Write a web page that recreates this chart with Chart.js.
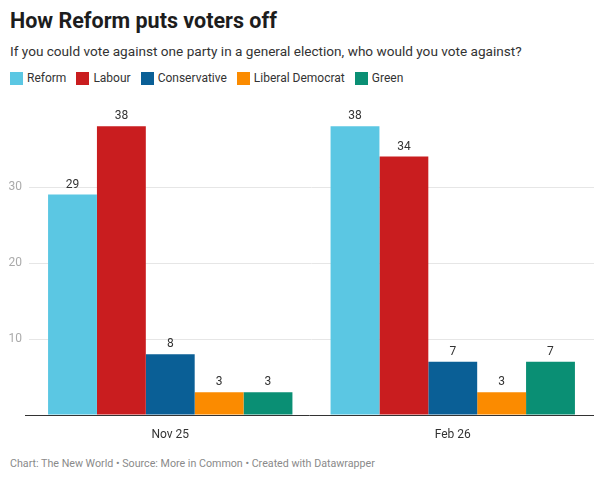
<!DOCTYPE html>
<html>
<head>
<meta charset="utf-8">
<script src="https://cdn.jsdelivr.net/npm/chart.js@4.4.1/dist/chart.umd.min.js"></script>
<style>
  html, body { margin: 0; padding: 0; background: #fff; }
  body { width: 603px; height: 480px; position: relative; overflow: hidden; font-family: Roboto, "Noto Sans", sans-serif; }
  #title { position: absolute; left: 10px; top: 8px; font-size: 21.5px; font-weight: 700; color: #1d1d1d; }
  #subtitle { position: absolute; left: 10px; top: 43px; font-size: 13.6px; color: #333; }
  #legend { position: absolute; left: 10px; top: 71px; font-size: 12px; color: #333; display: flex; }
  .item { display: flex; align-items: center; margin-right: 10px; }
  .sw { width: 13px; height: 13px; margin-right: 4px; }
  #footer { position: absolute; left: 10px; top: 457px; font-size: 10.7px; color: #8a8a8a; }
  #wrap { position: absolute; left: 0; top: 95px; width: 603px; height: 345px; }
</style>
</head>
<body>
<div id="title">How Reform puts voters off</div>
<div id="subtitle">If you could vote against one party in a general election, who would you vote against?</div>
<div id="legend"></div>
<div id="wrap"><canvas id="c"></canvas></div>
<div id="footer">Chart: The New World • Source: More in Common • Created with Datawrapper</div>
<script>
const categories = ["Nov 25", "Feb 26"];
const parties = ["Reform", "Labour", "Conservative", "Liberal Democrat", "Green"];
const reform = [29, 38];
const labour = [38, 34];
const conservative = [8, 7];
const libdem = [3, 3];
const green = [3, 7];
const yTicks = [10, 20, 30];
const colors = ["#5bc7e3", "#c91d1f", "#0a5f96", "#fb8b00", "#0a8f74"];

const seriesValues = [reform, labour, conservative, libdem, green];

const legend = document.getElementById('legend');
parties.forEach((p, i) => {
  const it = document.createElement('div');
  it.className = 'item';
  it.innerHTML = '<span class="sw" style="background:' + colors[i] + '"></span><span>' + p + '</span>';
  legend.appendChild(it);
});

const labelPlugin = {
  id: 'labels',
  afterDatasetsDraw(chart) {
    const ctx = chart.ctx;
    ctx.save();
    ctx.font = '12px Roboto, sans-serif';
    ctx.fillStyle = '#333';
    ctx.textAlign = 'center';
    ctx.textBaseline = 'bottom';
    chart.data.datasets.forEach((ds, di) => {
      const meta = chart.getDatasetMeta(di);
      meta.data.forEach((bar, i) => {
        ctx.fillText(String(ds.data[i]), bar.x, bar.y - 4);
      });
    });
    const y0 = chart.scales.y.getPixelForValue(0);
    ctx.strokeStyle = '#333';
    ctx.lineWidth = 1;
    ctx.beginPath();
    ctx.moveTo(chart.chartArea.left - 4, Math.round(y0) + 0.5);
    ctx.lineTo(chart.chartArea.right, Math.round(y0) + 0.5);
    ctx.stroke();
    ctx.restore();
  }
};

new Chart(document.getElementById('c'), {
  type: 'bar',
  data: {
    labels: categories,
    datasets: parties.map((p, i) => ({
      label: p,
      data: seriesValues[i],
      backgroundColor: colors[i],
      borderWidth: 0,
      barPercentage: 1.0,
      categoryPercentage: 0.865
    }))
  },
  options: {
    responsive: true,
    maintainAspectRatio: false,
    animation: false,
    layout: { padding: { top: 16, right: 9, left: 0, bottom: 0 } },
    plugins: { legend: { display: false }, tooltip: { enabled: false } },
    scales: {
      x: {
        grid: { display: false },
        border: { display: false },
        ticks: { color: '#333', font: { family: 'Roboto', size: 12 }, padding: 5 },
        afterFit(scale) { scale.height = 25; }
      },
      y: {
        min: 0,
        max: 40,
        afterBuildTicks(scale) { scale.ticks = [0, ...yTicks, 40].map(v => ({ value: v })); },
        ticks: {
          color: '#aaa',
          font: { family: 'Roboto', size: 12 },
          padding: 7,
          callback: (v) => yTicks.includes(v) ? String(v) : ''
        },
        grid: {
          color: (c) => yTicks.includes(c.tick && c.tick.value) ? '#e6e6e6' : 'rgba(0,0,0,0)',
          drawTicks: false
        },
        border: { display: false },
        afterFit(scale) { scale.width = 29; }
      }
    }
  },
  plugins: [labelPlugin]
});
</script>
</body>
</html>
